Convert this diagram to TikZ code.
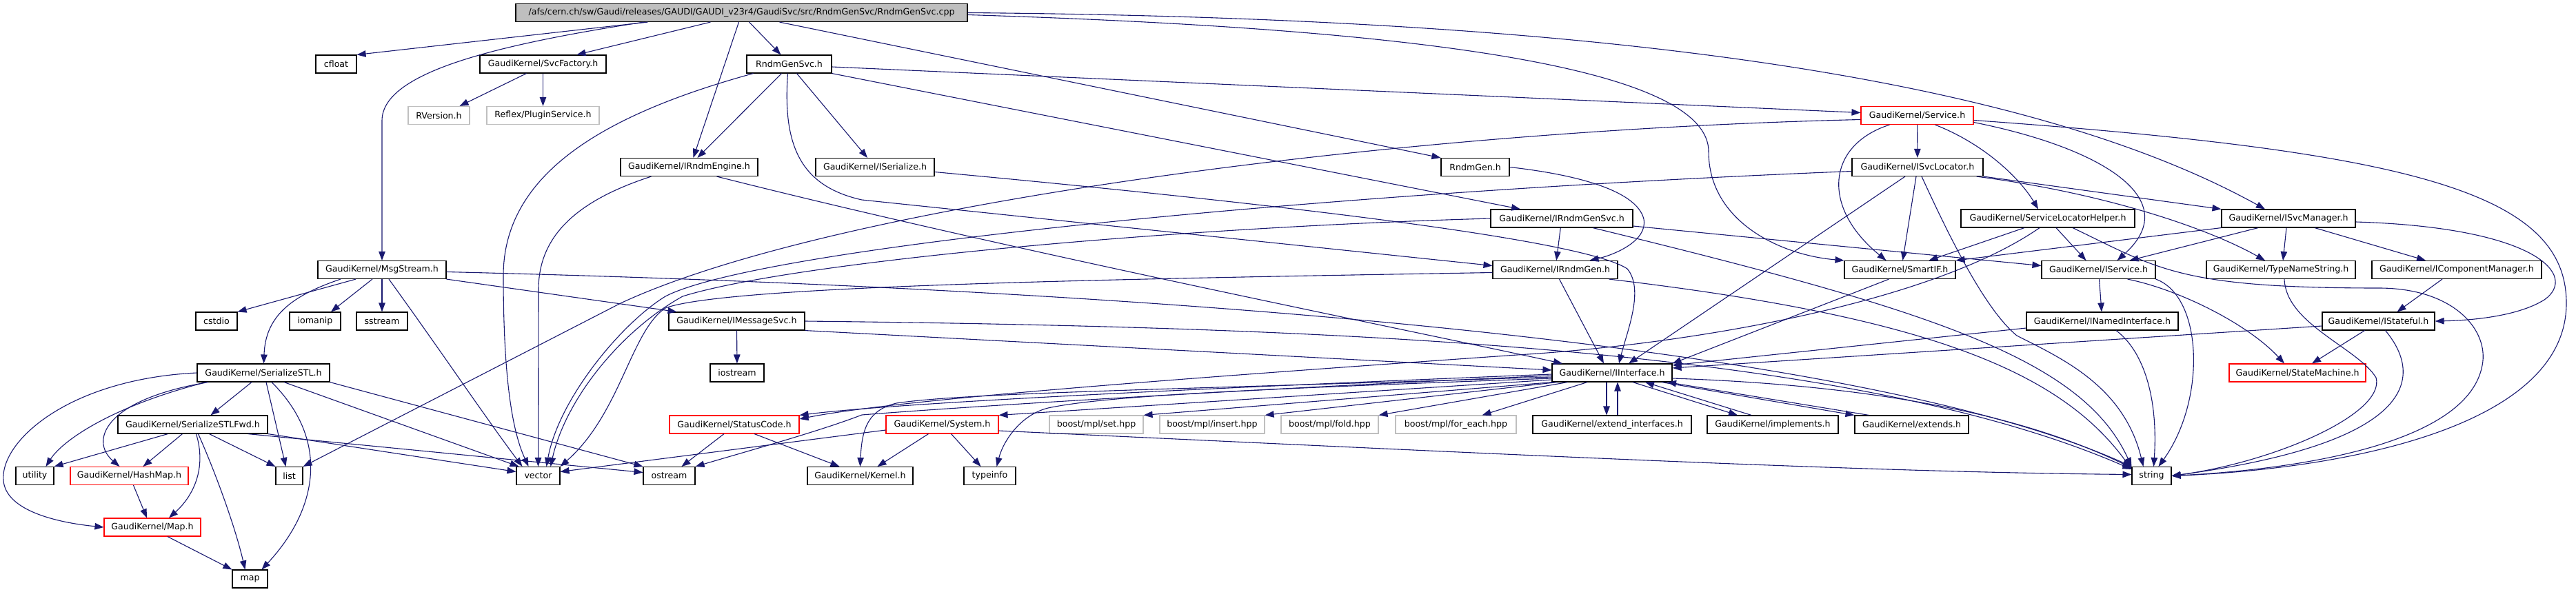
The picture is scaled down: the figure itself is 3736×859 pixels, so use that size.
\documentclass[tikz,border=0pt]{standalone}
\usepackage{fontspec}
\setmainfont{DejaVu Sans}
\usetikzlibrary{arrows.meta}
\definecolor{edgeblue}{HTML}{191970}
\definecolor{extgray}{HTML}{BFBFBF}
\begin{document}
\begin{tikzpicture}[x=1pt, y=-1pt, filenode/.style={draw=black, line width=1.1pt, fill=white, minimum height=26pt, inner sep=0pt, font=\fontsize{12.6}{15}\selectfont}, topnode/.style={filenode, fill=extgray}, truncnode/.style={filenode, draw=red}, extnode/.style={filenode, draw=extgray}, incl/.style={edgeblue, line width=1.1pt, -{Triangle[length=13pt, width=9.5pt]}}]
\useasboundingbox (0,0) rectangle (3736,859);
\node[topnode, minimum width=655pt] (rndmgensvccpp) at (1075.5,18.5) {/afs/cern.ch/sw/Gaudi/releases/GAUDI/GAUDI\_v23r4/GaudiSvc/src/RndmGenSvc/RndmGenSvc.cpp};
\node[filenode, minimum width=59pt] (cfloat) at (487.5,93) {cfloat};
\node[filenode, minimum width=183pt] (svcfactory) at (787.5,93) {GaudiKernel/SvcFactory.h};
\node[filenode, minimum width=123pt] (rndmgensvch) at (1144.5,93) {RndmGenSvc.h};
\node[extnode, minimum width=89pt] (rversion) at (636.5,167.5) {RVersion.h};
\node[extnode, minimum width=163pt] (pluginservice) at (787.5,167.5) {Reflex/PluginService.h};
\node[truncnode, minimum width=163pt] (service) at (2780.5,167.5) {GaudiKernel/Service.h};
\node[filenode, minimum width=199pt] (irndmengine) at (999.5,242.5) {GaudiKernel/IRndmEngine.h};
\node[filenode, minimum width=172pt] (iserialize) at (1269,242.5) {GaudiKernel/ISerialize.h};
\node[filenode, minimum width=99pt] (rndmgen) at (2139.5,242.5) {RndmGen.h};
\node[filenode, minimum width=190pt] (isvclocator) at (2781,242.5) {GaudiKernel/ISvcLocator.h};
\node[filenode, minimum width=206pt] (irndmgensvc) at (2265,317) {GaudiKernel/IRndmGenSvc.h};
\node[filenode, minimum width=252pt] (servicelocatorhelper) at (2970,317) {GaudiKernel/ServiceLocatorHelper.h};
\node[filenode, minimum width=194pt] (isvcmanager) at (3319,317) {GaudiKernel/ISvcManager.h};
\node[filenode, minimum width=186pt] (msgstream) at (554,391.5) {GaudiKernel/MsgStream.h};
\node[filenode, minimum width=181pt] (irndmgen) at (2255.5,391.5) {GaudiKernel/IRndmGen.h};
\node[filenode, minimum width=161pt] (smartif) at (2755.5,391.5) {GaudiKernel/SmartIF.h};
\node[filenode, minimum width=165pt] (iservice) at (3043.5,391.5) {GaudiKernel/IService.h};
\node[filenode, minimum width=216pt] (typenamestring) at (3308,391.5) {GaudiKernel/TypeNameString.h};
\node[filenode, minimum width=246pt] (icomponentmanager) at (3563,391.5) {GaudiKernel/IComponentManager.h};
\node[filenode, minimum width=60pt] (cstdio) at (314,466) {cstdio};
\node[filenode, minimum width=74pt] (iomanip) at (457,466) {iomanip};
\node[filenode, minimum width=74pt] (sstream) at (554,466) {sstream};
\node[filenode, minimum width=197pt] (imessagesvc) at (1068.5,466) {GaudiKernel/IMessageSvc.h};
\node[filenode, minimum width=220pt] (inamedinterface) at (3049,466) {GaudiKernel/INamedInterface.h};
\node[filenode, minimum width=163pt] (istateful) at (3449.5,466) {GaudiKernel/IStateful.h};
\node[filenode, minimum width=192pt] (serializestl) at (382,541) {GaudiKernel/SerializeSTL.h};
\node[filenode, minimum width=78pt] (iostream) at (1069,541) {iostream};
\node[filenode, minimum width=174pt] (iinterface) at (2338,541) {GaudiKernel/IInterface.h};
\node[truncnode, minimum width=198pt] (statemachine) at (3332,541) {GaudiKernel/StateMachine.h};
\node[filenode, minimum width=217pt] (serializestlfwd) at (279.5,616) {GaudiKernel/SerializeSTLFwd.h};
\node[truncnode, minimum width=188pt] (statuscode) at (1065,616) {GaudiKernel/StatusCode.h};
\node[truncnode, minimum width=163pt] (system) at (1366.5,616) {GaudiKernel/System.h};
\node[extnode, minimum width=136pt] (mplset) at (1590,616) {boost/mpl/set.hpp};
\node[extnode, minimum width=152pt] (mplinsert) at (1758,616) {boost/mpl/insert.hpp};
\node[extnode, minimum width=141pt] (mplfold) at (1928.5,616) {boost/mpl/fold.hpp};
\node[extnode, minimum width=175pt] (mplforeach) at (2111.5,616) {boost/mpl/for\_each.hpp};
\node[filenode, minimum width=230pt] (extendinterfaces) at (2338,616) {GaudiKernel/extend\_interfaces.h};
\node[filenode, minimum width=190pt] (implements) at (2571,616) {GaudiKernel/implements.h};
\node[filenode, minimum width=165pt] (extends) at (2772.5,616) {GaudiKernel/extends.h};
\node[filenode, minimum width=55pt] (utility) at (50.5,690.5) {utility};
\node[truncnode, minimum width=171pt] (hashmap) at (187.5,690.5) {GaudiKernel/HashMap.h};
\node[filenode, minimum width=39pt] (stdlist) at (419.5,690.5) {list};
\node[filenode, minimum width=63pt] (stdvector) at (780.5,690.5) {vector};
\node[filenode, minimum width=75pt] (ostream) at (970.5,690.5) {ostream};
\node[filenode, minimum width=153pt] (kernel) at (1247.5,690.5) {GaudiKernel/Kernel.h};
\node[filenode, minimum width=75pt] (typeinfo) at (1435.5,690.5) {typeinfo};
\node[filenode, minimum width=57pt] (stdstring) at (3120.5,690.5) {string};
\node[truncnode, minimum width=140pt] (gkmap) at (221,765) {GaudiKernel/Map.h};
\node[filenode, minimum width=51pt] (stdmap) at (362.5,840) {map};
\draw[incl] ([xshift=-136pt]rndmgensvccpp.south) -- (cfloat.north east);
\draw[incl] ([xshift=-142pt]rndmgensvccpp.south) .. controls (720,65) and (554,105) .. (554,175) -- (msgstream);
\draw[incl] ([xshift=-45pt]rndmgensvccpp.south) -- ([xshift=49pt]svcfactory.north);
\draw[incl] ([xshift=-4pt]rndmgensvccpp.south) -- ([xshift=6pt]irndmengine.north);
\draw[incl] ([xshift=11pt]rndmgensvccpp.south) -- ([xshift=-12pt]rndmgensvch.north);
\draw[incl] ([xshift=55pt]rndmgensvccpp.south) -- (rndmgen.north west);
\draw[incl] (rndmgensvccpp.east) .. controls (2200,25) and (2900,90) .. ([xshift=-34pt]isvcmanager.north);
\draw[incl] ([yshift=-3pt]rndmgensvccpp.east) .. controls (2000,40) and (2478,90) .. (2478,220) .. controls (2478,320) and (2580,370) .. (smartif.north west);
\draw[incl] ([xshift=-24pt]svcfactory.south) -- ([xshift=30pt]rversion.north);
\draw[incl] (svcfactory) -- (pluginservice);
\draw[incl] ([yshift=-4pt]rndmgensvch.east) -- ([yshift=4pt]service.west);
\draw[incl] (rndmgensvch.south east) -- ([xshift=-60pt]irndmgensvc.north);
\draw[incl] ([xshift=-11pt]rndmgensvch.south) -- ([xshift=12pt]irndmengine.north);
\draw[incl] ([xshift=11pt]rndmgensvch.south) -- ([xshift=-11pt]iserialize.north);
\draw[incl] ([xshift=-52pt]rndmgensvch.south) .. controls (880,165) and (730,250) .. (730,400) .. controls (730,560) and (745,630) .. ([xshift=-14pt]stdvector.north);
\draw[incl] ([xshift=-2pt]rndmgensvch.south) .. controls (1135,210) and (1160,270) .. (1250,290) -- ([yshift=6pt]irndmgen.west);
\draw[incl] ([xshift=-38pt]msgstream.south) -- (cstdio.north east);
\draw[incl] ([xshift=-14pt]msgstream.south) -- ([xshift=23pt]iomanip.north);
\draw[incl] (msgstream) -- (sstream);
\draw[incl] ([xshift=-60pt]msgstream.south) .. controls (420,430) and (385,460) .. (serializestl);
\draw[incl] ([xshift=10pt]msgstream.south) .. controls (640,510) and (700,600) .. ([xshift=-23pt]stdvector.north);
\draw[incl] (msgstream.south east) -- ([xshift=-87pt]imessagesvc.north);
\draw[incl] ([yshift=-3pt]msgstream.east) .. controls (1700,420) and (2700,500) .. (stdstring.north west);
\draw[incl] (imessagesvc) -- (iostream);
\draw[incl] (imessagesvc.south east) -- ([yshift=4pt]iinterface.west);
\draw[incl] (imessagesvc.east) .. controls (2000,475) and (2700,510) .. ([yshift=-4pt]stdstring.north west);
\draw[incl] ([xshift=-17pt]serializestl.south) -- ([xshift=26pt]serializestlfwd.north);
\draw[incl] ([xshift=-83pt]serializestl.south) .. controls (160,590) and (90,640) .. ([xshift=16pt]utility.north);
\draw[incl] ([xshift=-80pt]serializestl.south) .. controls (150,580) and (130,640) .. ([xshift=-14pt]hashmap.north);
\draw[incl] (serializestl.west) .. controls (100,550) and (0,640) .. (5,697) .. controls (8,740) and (80,758) .. (gkmap.west);
\draw[incl] ([xshift=4pt]serializestl.south) -- ([xshift=-5pt]stdlist.north);
\draw[incl] ([xshift=12pt]serializestl.south) .. controls (480,640) and (460,740) .. ([xshift=17pt]stdmap.north);
\draw[incl] ([xshift=30pt]serializestl.south) -- ([xshift=-28pt]stdvector.north);
\draw[incl] (serializestl.south east) -- (ostream.north west);
\draw[incl] ([xshift=-36pt]serializestlfwd.south) -- (utility.north east);
\draw[incl] ([xshift=-15pt]serializestlfwd.south) -- ([xshift=20pt]hashmap.north);
\draw[incl] ([xshift=5pt]serializestlfwd.south) .. controls (300,680) and (280,720) .. ([xshift=24pt]gkmap.north);
\draw[incl] ([xshift=8pt]serializestlfwd.south) .. controls (310,680) and (340,760) .. ([xshift=-7pt]stdmap.north);
\draw[incl] ([xshift=24pt]serializestlfwd.south) -- (stdlist.north west);
\draw[incl] ([xshift=80pt]serializestlfwd.south) -- ([yshift=5pt]ostream.west);
\draw[incl] (serializestlfwd.south east) -- ([yshift=6pt]stdvector.west);
\draw[incl] ([xshift=6pt]hashmap.south) -- ([xshift=-8pt]gkmap.north);
\draw[incl] ([xshift=22pt]gkmap.south) -- (stdmap.north west);
\draw[incl] ([xshift=-55pt]irndmengine.south) .. controls (840,290) and (781,340) .. (781,420) -- (stdvector);
\draw[incl] ([xshift=40pt]irndmengine.south) .. controls (1450,360) and (2000,470) .. ([xshift=-72pt]iinterface.north);
\draw[incl] ([yshift=-7pt]iserialize.east) .. controls (1900,300) and (2300,350) .. (2360,390) .. controls (2385,420) and (2360,480) .. ([xshift=10pt]iinterface.north);
\draw[incl] (rndmgen.east) .. controls (2300,255) and (2375,280) .. (2384,318) .. controls (2390,350) and (2340,370) .. ([xshift=50pt]irndmgen.north);
\draw[incl] (irndmgensvc) -- (irndmgen);
\draw[incl] (irndmgensvc.west) .. controls (1700,330) and (1150,380) .. (990,430) .. controls (900,480) and (820,580) .. ([xshift=18pt]stdvector.north);
\draw[incl] ([yshift=-11pt]irndmgensvc.east) -- ([yshift=6pt]iservice.west);
\draw[incl] ([xshift=45pt]irndmgensvc.south) .. controls (2800,450) and (3020,520) .. (stdstring.north west);
\draw[incl] ([yshift=-4pt]irndmgen.west) .. controls (1600,405) and (1050,415) .. (965,447) .. controls (915,480) and (900,600) .. (stdvector.north east);
\draw[incl] ([xshift=6pt]irndmgen.south) -- ([xshift=-12pt]iinterface.north);
\draw[incl] ([xshift=78pt]irndmgen.south) .. controls (2800,460) and (2990,540) .. ([yshift=-4pt]stdstring.north west);
\draw[incl] (service) -- (isvclocator);
\draw[incl] ([xshift=26pt]service.south) .. controls (2880,210) and (2930,260) .. ([xshift=-14pt]servicelocatorhelper.north);
\draw[incl] ([xshift=-40pt]service.south) .. controls (2650,210) and (2640,300) .. ([xshift=-20pt]smartif.north);
\draw[incl] ([yshift=-10pt]service.east) .. controls (3050,215) and (3170,290) .. ([xshift=27pt]iservice.north);
\draw[incl] ([yshift=-6pt]service.west) .. controls (2000,190) and (1200,300) .. (900,440) -- (stdlist.north east);
\draw[incl] ([yshift=-7pt]service.east) .. controls (3500,220) and (3722,280) .. (3722,440) .. controls (3722,620) and (3400,680) .. (stdstring.east);
\draw[incl] ([xshift=-2pt]isvclocator.south) -- ([xshift=4pt]smartif.north);
\draw[incl] ([xshift=-18pt]isvclocator.south) -- ([xshift=24pt]iinterface.north);
\draw[incl] ([xshift=6pt]isvclocator.south) .. controls (2830,350) and (2880,450) .. (2925,487) .. controls (2990,520) and (3080,560) .. ([xshift=-12pt]stdstring.north);
\draw[incl] ([yshift=-6pt]isvclocator.west) .. controls (1900,280) and (1100,360) .. (965,430) .. controls (900,470) and (810,580) .. ([xshift=12pt]stdvector.north);
\draw[incl] (isvclocator.south east) -- (isvcmanager.north west);
\draw[incl] ([xshift=-10pt]isvclocator.south east) .. controls (3050,280) and (3200,330) .. ([xshift=-23pt]typenamestring.north);
\draw[incl] ([xshift=-34pt]servicelocatorhelper.south) -- ([xshift=42pt]smartif.north);
\draw[incl] ([xshift=12pt]servicelocatorhelper.south) -- ([xshift=-18pt]iservice.north);
\draw[incl] ([xshift=-12pt]servicelocatorhelper.south) .. controls (2800,440) and (2450,500) .. (2200,515) .. controls (1700,550) and (1300,580) .. ([yshift=8pt]statuscode.east);
\draw[incl] ([xshift=36pt]servicelocatorhelper.south) .. controls (3130,390) and (3160,418) .. (3450,418) .. controls (3560,418) and (3610,480) .. (3600,530) .. controls (3580,640) and (3350,680) .. (stdstring.east);
\draw[incl] (isvcmanager.south west) -- (smartif.north east);
\draw[incl] ([xshift=-44pt]isvcmanager.south) -- ([xshift=45pt]iservice.north);
\draw[incl] ([xshift=-3pt]isvcmanager.south) -- ([xshift=3pt]typenamestring.north);
\draw[incl] ([xshift=38pt]isvcmanager.south) -- ([xshift=-45pt]icomponentmanager.north);
\draw[incl] ([yshift=-5pt]isvcmanager.east) .. controls (3680,330) and (3740,400) .. (3690,435) .. controls (3650,460) and (3580,465) .. (istateful.east);
\draw[incl] ([xshift=-21pt]icomponentmanager.south) -- ([xshift=27pt]istateful.north);
\draw[incl] ([xshift=5pt]typenamestring.south) .. controls (3315,470) and (3420,505) .. (3446,548) .. controls (3460,600) and (3300,670) .. (stdstring.east);
\draw[incl] (iservice) -- (inamedinterface);
\draw[incl] ([xshift=42pt]iservice.south) .. controls (3160,420) and (3260,470) .. ([xshift=-19pt]statemachine.north);
\draw[incl] (iservice.south east) .. controls (3195,430) and (3200,580) .. ([xshift=10pt]stdstring.north);
\draw[incl] ([xshift=20pt]inamedinterface.south) .. controls (3110,510) and (3130,580) .. ([xshift=3pt]stdstring.north);
\draw[incl] ([yshift=-10pt]inamedinterface.west) -- ([yshift=11pt]iinterface.east);
\draw[incl] ([yshift=-7pt]istateful.west) -- ([yshift=7pt]iinterface.east);
\draw[incl] ([xshift=-20pt]istateful.south) -- ([xshift=21pt]statemachine.north);
\draw[incl] ([xshift=10pt]istateful.south) .. controls (3510,540) and (3520,640) .. (stdstring.east);
\draw[incl] ([xshift=-16pt]smartif.south) -- (iinterface.north east);
\draw[incl] ([xshift=-8pt]iinterface.south) -- ([xshift=-8pt]extendinterfaces.north);
\draw[incl] ([xshift=8pt]extendinterfaces.north) -- ([xshift=8pt]iinterface.south);
\draw[incl] ([xshift=30pt]iinterface.south) -- ([xshift=-51pt]implements.north);
\draw[incl] ([xshift=-31pt]implements.north) -- ([xshift=48pt]iinterface.south);
\draw[incl] ([xshift=72pt]iinterface.south) -- (extends.north west);
\draw[incl] ([xshift=-62pt]extends.north) -- ([xshift=80pt]iinterface.south);
\draw[incl] ([xshift=-36pt]iinterface.south) -- ([xshift=38pt]mplforeach.north);
\draw[incl] ([xshift=23pt]iinterface.south west) -- (mplfold.north east);
\draw[incl] ([xshift=8pt]iinterface.south west) -- (mplinsert.north east);
\draw[incl] ([xshift=2pt]iinterface.south west) -- (mplset.north east);
\draw[incl] ([yshift=-10pt]iinterface.west) -- (system.north east);
\draw[incl] ([yshift=-2pt]iinterface.west) .. controls (1700,565) and (1300,585) .. (statuscode.north east);
\draw[incl] ([yshift=-4pt]iinterface.west) .. controls (1800,565) and (1400,590) .. (1250,602) .. controls (1190,625) and (1100,650) .. (ostream.north east);
\draw[incl] ([yshift=-6pt]iinterface.west) .. controls (1700,565) and (1400,570) .. (1300,585) .. controls (1260,595) and (1250,620) .. (kernel.north);
\draw[incl] ([yshift=-8pt]iinterface.west) .. controls (1800,565) and (1600,575) .. (1520,592) .. controls (1480,602) and (1455,640) .. ([xshift=10pt]typeinfo.north);
\draw[incl] ([yshift=-8pt]iinterface.east) .. controls (2750,560) and (2950,610) .. ([yshift=-2pt]stdstring.north west);
\draw[incl] ([xshift=-15pt]statuscode.south) -- ([xshift=18pt]ostream.north);
\draw[incl] ([xshift=29pt]statuscode.south) -- ([xshift=-30pt]kernel.north);
\draw[incl] ([xshift=-20pt]system.south) -- ([xshift=25pt]kernel.north);
\draw[incl] ([xshift=13pt]system.south) -- ([xshift=-13pt]typeinfo.north);
\draw[incl] ([yshift=-9pt]system.east) .. controls (2200,660) and (2700,685) .. ([yshift=2pt]stdstring.west);
\draw[incl] ([yshift=-8pt]system.west) -- ([yshift=6pt]stdvector.east);
\end{tikzpicture}
\end{document}
